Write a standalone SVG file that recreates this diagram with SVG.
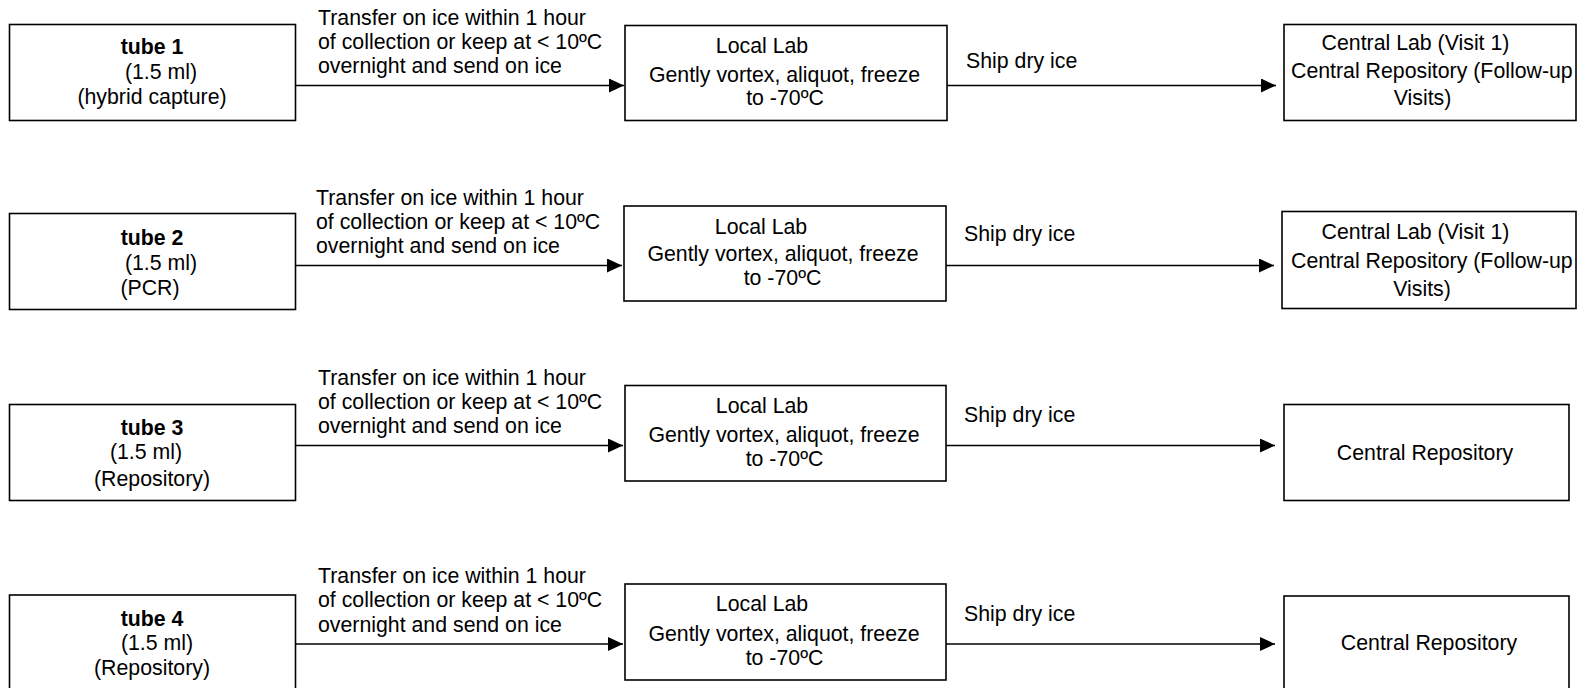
<svg xmlns="http://www.w3.org/2000/svg" width="1578" height="688" viewBox="0 0 1578 688">
<style>
text{font-family:"Liberation Sans",Arial,sans-serif;font-size:21.3px;fill:#000}
.b{font-weight:bold}
.m{text-anchor:middle}
rect{fill:#fff;stroke:#000;stroke-width:1.6}
.c line{stroke:#000;stroke-width:1.6}
</style>
<defs>
<marker id="ah" markerUnits="userSpaceOnUse" markerWidth="16" markerHeight="14" refX="15" refY="7" orient="auto">
<path d="M0,0 L15,7 L0,14 Z" fill="#000"/>
</marker>
</defs>
<rect x="0" y="0" width="1578" height="688" style="stroke:none"/>
<g class="c" id="connectors">
<line x1="295" y1="85.5" x2="624" y2="85.5" marker-end="url(#ah)"/>
<line x1="947" y1="85.5" x2="1276" y2="85.5" marker-end="url(#ah)"/>
<line x1="295" y1="265.5" x2="622" y2="265.5" marker-end="url(#ah)"/>
<line x1="946" y1="265.5" x2="1274" y2="265.5" marker-end="url(#ah)"/>
<line x1="295" y1="445.5" x2="623" y2="445.5" marker-end="url(#ah)"/>
<line x1="946" y1="445.5" x2="1275" y2="445.5" marker-end="url(#ah)"/>
<line x1="295" y1="644" x2="623" y2="644" marker-end="url(#ah)"/>
<line x1="946" y1="644" x2="1275" y2="644" marker-end="url(#ah)"/>
</g>
<g id="labels">
<text x="318" y="24.5">Transfer on ice within 1 hour</text>
<text x="318" y="48.8">of collection or keep at &lt; 10ºC</text>
<text x="318" y="73">overnight and send on ice</text>
<text x="966" y="68">Ship dry ice</text>
<text x="316" y="205">Transfer on ice within 1 hour</text>
<text x="316" y="229">of collection or keep at &lt; 10ºC</text>
<text x="316" y="253">overnight and send on ice</text>
<text x="964" y="241">Ship dry ice</text>
<text x="318" y="385">Transfer on ice within 1 hour</text>
<text x="318" y="409">of collection or keep at &lt; 10ºC</text>
<text x="318" y="433">overnight and send on ice</text>
<text x="964" y="422">Ship dry ice</text>
<text x="318" y="583">Transfer on ice within 1 hour</text>
<text x="318" y="607">of collection or keep at &lt; 10ºC</text>
<text x="318" y="631.5">overnight and send on ice</text>
<text x="964" y="620.5">Ship dry ice</text>
</g>
<g id="tube1">
<rect x="9.5" y="24.5" width="286" height="96"/>
<text class="b m" x="152" y="54">tube 1</text>
<text class="m" x="161" y="79">(1.5 ml)</text>
<text class="m" x="152" y="104">(hybrid capture)</text>
</g>
<g id="local1">
<rect x="625" y="25.5" width="322" height="95"/>
<text class="m" x="762" y="53">Local Lab</text>
<text class="m" x="784.5" y="82">Gently vortex, aliquot, freeze</text>
<text class="m" x="785" y="105">to -70ºC</text>
</g>
<g id="central1">
<rect x="1284" y="24.5" width="292" height="96"/>
<text class="m" x="1415.5" y="50">Central Lab (Visit 1)</text>
<text x="1291" y="78">Central Repository (Follow-up</text>
<text class="m" x="1422.5" y="105">Visits)</text>
</g>
<g id="tube2">
<rect x="9.5" y="213.5" width="286" height="96"/>
<text class="b m" x="152" y="245">tube 2</text>
<text class="m" x="161" y="270">(1.5 ml)</text>
<text class="m" x="150" y="295">(PCR)</text>
</g>
<g id="local2">
<rect x="624" y="206" width="322" height="95"/>
<text class="m" x="761" y="234">Local Lab</text>
<text class="m" x="783" y="261">Gently vortex, aliquot, freeze</text>
<text class="m" x="782.5" y="285">to -70ºC</text>
</g>
<g id="central2">
<rect x="1282" y="211.5" width="294" height="97"/>
<text class="m" x="1415.5" y="239">Central Lab (Visit 1)</text>
<text x="1291" y="268">Central Repository (Follow-up</text>
<text class="m" x="1422" y="296">Visits)</text>
</g>
<g id="tube3">
<rect x="9.5" y="404.5" width="286" height="96"/>
<text class="b m" x="152" y="435">tube 3</text>
<text class="m" x="146" y="459">(1.5 ml)</text>
<text class="m" x="152" y="485.5">(Repository)</text>
</g>
<g id="local3">
<rect x="625" y="385.5" width="321" height="95.5"/>
<text class="m" x="762" y="413">Local Lab</text>
<text class="m" x="784" y="442">Gently vortex, aliquot, freeze</text>
<text class="m" x="784.5" y="466">to -70ºC</text>
</g>
<g id="central3">
<rect x="1284" y="404.5" width="285" height="96"/>
<text class="m" x="1425" y="459.5">Central Repository</text>
</g>
<g id="tube4">
<rect x="9.5" y="595" width="286" height="100"/>
<text class="b m" x="152" y="625.5">tube 4</text>
<text class="m" x="157" y="649.5">(1.5 ml)</text>
<text class="m" x="152" y="674.5">(Repository)</text>
</g>
<g id="local4">
<rect x="625" y="584" width="321" height="96"/>
<text class="m" x="762" y="611">Local Lab</text>
<text class="m" x="784" y="640.5">Gently vortex, aliquot, freeze</text>
<text class="m" x="784.5" y="664.5">to -70ºC</text>
</g>
<g id="central4">
<rect x="1284" y="596" width="285" height="100"/>
<text class="m" x="1429" y="649.5">Central Repository</text>
</g>
</svg>
